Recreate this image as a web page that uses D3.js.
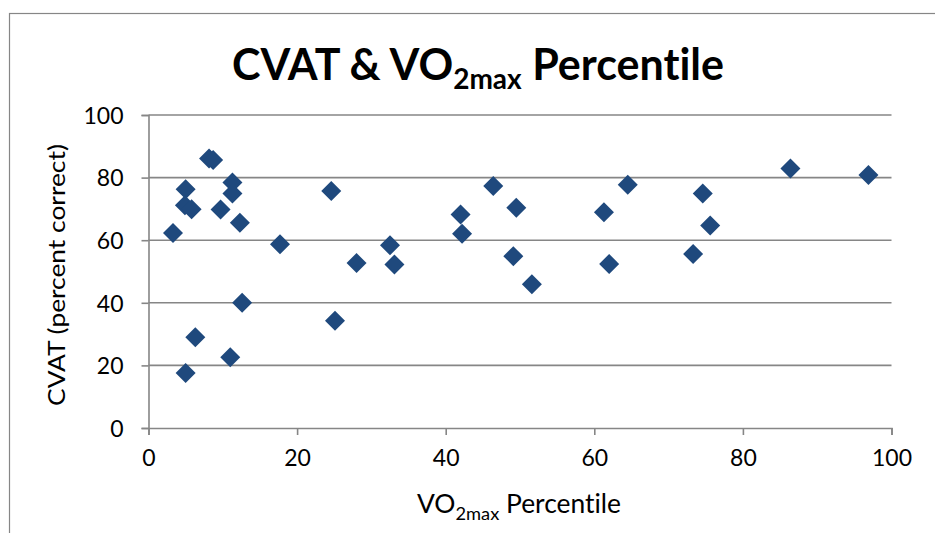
<!DOCTYPE html>
<html><head><meta charset="utf-8">
<script src="https://cdn.jsdelivr.net/npm/d3@7"></script>
<style>html,body{margin:0;padding:0;background:#fff;}svg{display:block;}text{font-variant-ligatures:none;font-feature-settings:"liga" 0,"dlig" 0;}</style>
</head><body>
<svg id="c" width="935" height="533"></svg>
<script>
const vo2Percentile = [8.15, 8.7, 5.0, 11.3, 11.3, 4.9, 5.8, 9.7, 12.3, 3.3, 17.7, 24.6, 12.6, 6.3, 11.0, 5.0, 25.1, 28.0, 32.5, 33.1, 42.0, 42.2, 46.4, 49.5, 49.1, 51.6, 61.3, 64.5, 62.0, 74.6, 75.6, 73.3, 86.4, 96.9];
const cvatScore   = [86.1, 85.6, 76.3, 78.4, 74.9, 71.2, 69.9, 69.8, 65.6, 62.3, 58.7, 75.7, 40.0, 29.0, 22.6, 17.6, 34.3, 52.7, 58.4, 52.2, 68.2, 62.1, 77.3, 70.4, 54.9, 45.9, 68.9, 77.7, 52.4, 74.9, 64.7, 55.6, 82.9, 80.8];
const xTicks = [0, 20, 40, 60, 80, 100];
const yTicks = [0, 20, 40, 60, 80, 100];
const titleText = ["CVAT & VO", "2max", " Percentile"];
const xTitleText = ["VO", "2max", " Percentile"];
const yTitleText = "CVAT (percent correct)";

const svg = d3.select("#c");
const font = "Lato, 'Liberation Sans', Arial, sans-serif";
const grey = "#868686";
const x = d3.scaleLinear().domain([0, 100]).range([148.5, 891.5]);
const y = d3.scaleLinear().domain([0, 100]).range([428, 115]);

// outer border
svg.append("rect").attr("x", 9.5).attr("y", 13.5).attr("width", 960).attr("height", 560)
  .attr("fill", "none").attr("stroke", grey).attr("stroke-width", 1.2);

// gridlines
svg.append("g").selectAll("line").data(yTicks.filter(d => d > 0)).join("line")
  .attr("x1", x(0)).attr("x2", x(100)).attr("y1", d => y(d)).attr("y2", d => y(d))
  .attr("stroke", grey).attr("stroke-width", 1.6);

// axes
const xAxis = d3.axisBottom(x).tickValues(xTicks).tickSize(7).tickPadding(14).tickFormat(d3.format("d"));
const gx = svg.append("g").attr("transform", `translate(0,${y(0)})`).call(xAxis);
const yAxis = d3.axisLeft(y).tickValues(yTicks).tickSize(7).tickPadding(18).tickFormat(d3.format("d"));
const gy = svg.append("g").attr("transform", `translate(${x(0)},0)`).call(yAxis);
[gx, gy].forEach(g => {
  g.select(".domain").attr("stroke", grey).attr("stroke-width", 1.6);
  g.selectAll(".tick line").attr("stroke", grey).attr("stroke-width", 1.6);
  g.selectAll(".tick text").attr("font-family", font).attr("font-size", 23).attr("fill", "#000");
});
gy.selectAll(".tick text").attr("dy", "0.36em");
gx.selectAll(".tick text").attr("dy", "0.75em");

// points
const pts = vo2Percentile.map((v, i) => [v, cvatScore[i]]);
const sym = d3.symbol(d3.symbolSquare, 200);
svg.append("g").selectAll("path").data(pts).join("path")
  .attr("d", sym)
  .attr("transform", d => `translate(${x(d[0])},${y(d[1])}) rotate(45)`)
  .attr("fill", "#1F497D");

// helper to fit text horizontally
function fitX(sel, left, right) {
  const bb = sel.node().getBBox();
  const s = (right - left) / bb.width;
  sel.attr("transform", `translate(${left},0) scale(${s},1) translate(${-bb.x},0)`);
}

// title
const t = svg.append("text").attr("x", 0).attr("y", 80).attr("font-family", font)
  .attr("font-weight", "bold").attr("font-size", 43).attr("fill", "#000");
t.append("tspan").text(titleText[0]);
t.append("tspan").attr("font-size", 28).attr("dy", 9).text(titleText[1]);
t.append("tspan").attr("dy", -9).text(titleText[2]);
fitX(t, 232, 724);

// x title
const xt = svg.append("text").attr("x", 0).attr("y", 513).attr("font-family", font)
  .attr("font-size", 26).attr("fill", "#000");
xt.append("tspan").text(xTitleText[0]);
xt.append("tspan").attr("font-size", 18).attr("dy", 7).text(xTitleText[1]);
xt.append("tspan").attr("dy", -7).text(xTitleText[2]);
fitX(xt, 417, 621);

// y title
const yt = svg.append("text").attr("font-family", font).attr("font-size", 23).attr("fill", "#000")
  .attr("text-anchor", "middle").text(yTitleText);
const ybb = yt.node().getBBox();
const ys = 262 / ybb.width;
yt.attr("transform", `translate(65,275) rotate(-90) scale(${ys},1)`);
</script>
</body></html>
